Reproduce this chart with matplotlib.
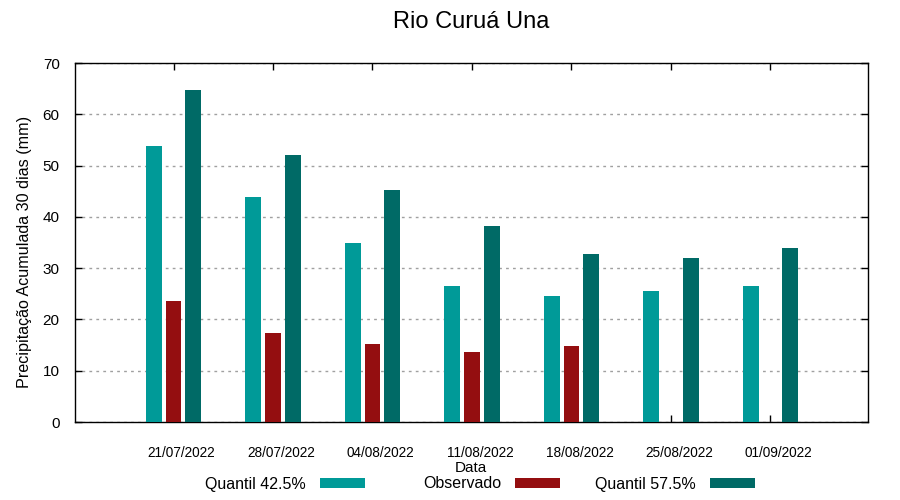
import matplotlib
matplotlib.use("Agg")
import matplotlib.pyplot as plt
import matplotlib.transforms as mtransforms
import numpy as np

plt.rcParams['font.family'] = ['Liberation Sans', 'DejaVu Sans']

# dates and series
datas = ['21/07/2022', '28/07/2022', '04/08/2022', '11/08/2022',
         '18/08/2022', '25/08/2022', '01/09/2022']
quantil_425 = [53.9, 43.8, 35.0, 26.6, 24.5, 25.6, 26.6]
observado = [23.5, 17.3, 15.3, 13.6, 14.9, np.nan, np.nan]
quantil_575 = [64.8, 52.1, 45.3, 38.3, 32.7, 31.9, 34.0]

c_q42 = '#009a98'
c_obs = '#940e10'
c_q57 = '#006a66'

fig = plt.figure(figsize=(9, 5), dpi=100)
ax = fig.add_axes([75/900, 1-422/500, 793/900, 359/500])

x = np.arange(len(datas))
w = 0.16
b1 = ax.bar(x - 0.2, quantil_425, w, color=c_q42, label='Quantil 42.5%', zorder=3)
b2 = ax.bar(x, observado, w, color=c_obs, label='Observado', zorder=3)
b3 = ax.bar(x + 0.2, quantil_575, w, color=c_q57, label='Quantil 57.5%', zorder=3)

ax.set_xlim(-0.99, 6.98)
ax.set_ylim(0, 70)
ax.set_yticks(np.arange(0, 71, 10))
ax.set_xticks(x)
ax.set_xticklabels(datas)
ax.tick_params(direction='in', top=True, right=True, length=5, width=1)
ax.tick_params(axis='y', labelsize=11, pad=11)
ax.tick_params(axis='x', labelsize=9.8, pad=17)
# gnuplot puts the date labels a little to the right of the tick
off = mtransforms.ScaledTranslation(8/100, 0, fig.dpi_scale_trans)
for lab in ax.get_xticklabels():
    lab.set_transform(lab.get_transform() + off)

ax.grid(axis='y', color='#a0a0a0', linestyle=(0, (2, 3)), linewidth=1, zorder=0)
for s in ax.spines.values():
    s.set_linewidth(1)

ax.set_ylabel('Precipitação Acumulada 30 dias (mm)', fontsize=11.6)
ax.yaxis.set_label_coords(-0.054, 0.474)
fig.text(471/900, 1-468/500, 'Data', fontsize=11, ha='center', va='center')
fig.text(471/900, 1-22/500, 'Rio Curuá Una', fontsize=17, ha='center', va='center')

# one legend per key, gnuplot style: text then swatch
for bars, right in [(b1, 365), (b2, 560), (b3, 755)]:
    fig.legend(handles=[bars], loc='center right',
               bbox_to_anchor=(right/900, 1-484/500),
               markerfirst=False, frameon=False, fontsize=11.5,
               handlelength=2.8, handleheight=0.6, handletextpad=0.9,
               borderpad=0, borderaxespad=0)

fig.savefig('out.png', dpi=100)
